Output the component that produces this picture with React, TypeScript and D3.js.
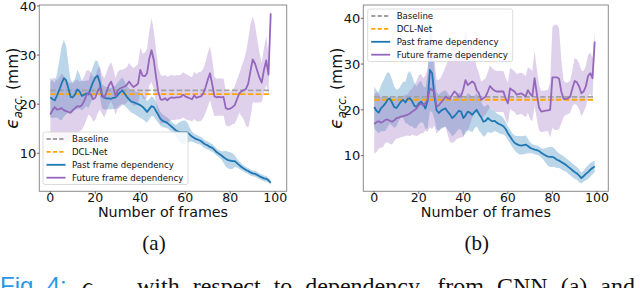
import React from 'react';
import * as d3 from 'd3';

// ---------- data ----------
const xTicks = [0, 20, 40, 60, 80, 100];
const yTicks = [10, 20, 30, 40];
const legendLabels = ['Baseline', 'DCL-Net', 'Past frame dependency', 'Future frame dependency'];
const panelLabels = ['(a)', '(b)'];
const xLabel = 'Number of frames';

const baselineA = 22.8;
const dclA = 22.05;
const baselineB = 22.85;
const dclB = 22.2;

// (a) CNN
const pastMeanA = [21.4,21.0,20.8,21.8,22.9,24.2,25.3,24.9,23.3,21.5,21.4,22.0,23.0,22.6,21.7,21.9,22.2,22.0,23.3,24.5,25.4,25.8,24.4,21.6,21.3,21.2,21.2,21.1,21.3,21.4,21.9,22.4,22.8,22.2,21.5,21.0,20.5,20.4,20.2,20.0,19.8,19.5,19.0,18.4,19.0,19.6,19.4,18.6,17.8,17.0,16.6,16.4,16.2,15.8,15.4,15.0,14.6,14.4,14.3,14.3,14.3,14.2,13.8,13.4,13.1,12.9,12.7,12.5,12.1,11.8,11.6,11.3,11.1,10.7,10.2,9.9,9.6,9.2,8.9,8.6,8.5,8.4,8.4,8.0,7.6,7.2,6.9,6.6,6.4,6.1,5.9,5.8,5.6,5.3,5.1,4.9,4.8,4.5,4.0];
const pastStdA = [4.0,3.8,3.5,4.5,6.0,7.5,7.8,7.0,5.0,3.5,3.0,3.2,4.0,3.5,3.0,2.8,2.6,2.8,3.0,3.2,3.5,3.0,2.8,2.5,2.4,2.3,2.2,2.2,2.3,2.4,2.5,2.6,2.7,2.5,2.3,2.2,2.2,2.3,2.4,2.5,2.6,2.5,2.4,2.2,2.0,2.0,1.9,1.8,1.6,1.4,1.3,1.2,1.1,1.1,1.0,1.0,1.2,1.8,2.2,2.4,2.4,2.0,1.4,1.0,0.9,0.9,0.8,0.8,0.8,0.8,0.8,0.8,0.8,0.7,0.7,0.7,0.8,1.2,1.6,1.7,1.7,1.6,1.2,0.9,0.8,0.7,0.6,0.6,0.6,0.6,0.6,0.6,0.6,0.6,0.6,0.6,0.6,0.5,0.4];
const futureMeanA = [17.9,18.8,19.4,18.9,19.0,19.2,18.8,18.6,18.4,18.3,18.8,19.2,19.6,19.5,19.8,20.6,21.8,22.4,22.0,21.0,21.3,22.6,23.4,22.0,21.3,22.5,23.8,24.6,23.4,21.6,22.8,23.2,23.4,23.6,23.9,24.6,24.0,23.5,23.8,24.2,27.0,25.8,25.7,26.3,29.3,31.0,29.0,25.6,22.5,21.0,20.9,21.2,20.8,21.2,21.4,21.3,21.4,21.4,21.5,21.9,21.6,21.4,21.2,21.0,21.8,21.3,21.5,21.6,22.2,23.4,25.0,26.3,24.0,21.6,21.4,21.5,21.4,21.5,19.2,19.0,19.1,19.4,19.8,21.0,22.2,22.6,22.9,23.1,24.2,26.8,29.1,28.3,26.8,25.4,24.4,27.0,28.9,26.0,38.5];
const futureStdA = [6.5,6.5,6.0,6.0,6.5,7.0,7.0,6.5,6.0,6.0,5.5,5.5,5.5,5.0,5.0,5.0,5.0,4.5,4.5,4.5,4.5,4.5,4.5,4.0,4.0,4.0,4.0,4.0,3.8,3.8,3.8,3.8,3.6,3.6,3.6,3.8,3.8,3.8,4.0,4.0,4.5,4.5,4.8,5.0,5.5,6.5,6.0,5.5,5.0,5.0,4.8,4.8,4.8,4.6,4.6,4.5,4.5,4.5,4.5,4.6,4.6,4.6,4.5,4.5,4.8,4.8,5.0,5.0,5.0,5.2,5.5,5.5,5.0,4.0,3.8,3.8,3.8,3.8,3.5,3.5,3.5,3.5,3.8,4.0,4.0,5.0,6.0,7.5,9.0,9.5,8.7,8.0,6.5,5.0,4.0,4.5,5.0,4.0,1.0];

// (b)
const pastMeanB = [20.6,19.8,19.4,20.3,20.8,21.4,22.2,22.5,21.6,20.6,20.4,21.1,21.8,22.2,21.6,22.4,22.5,21.9,20.9,20.6,21.4,21.8,21.2,20.3,22.0,28.7,28.0,23.0,19.9,19.3,19.8,20.1,20.3,19.6,19.0,18.2,18.6,19.2,19.8,19.6,18.2,18.8,19.6,19.4,18.9,19.5,20.0,19.1,18.4,17.4,17.6,18.2,17.8,17.5,17.6,17.2,16.9,16.7,16.4,15.8,14.9,14.2,13.4,12.8,12.5,12.3,12.2,12.3,12.4,12.1,11.7,11.5,11.3,11.2,11.0,10.6,10.3,10.0,9.8,9.7,9.7,9.5,9.1,8.9,8.6,8.3,8.0,7.6,7.2,6.8,6.4,6.1,5.6,5.1,5.5,6.0,6.4,6.9,7.3,7.6];
const pastStdB = [4.5,4.5,4.5,5.0,5.5,6.0,6.0,5.5,5.0,4.5,4.0,3.5,3.5,4.0,4.5,5.5,6.0,5.5,5.0,4.5,4.5,4.5,4.0,4.5,6.0,9.0,8.5,5.0,4.0,4.0,4.0,4.0,4.0,4.0,4.0,4.0,4.0,4.0,4.0,4.0,4.0,4.0,4.0,4.0,3.8,3.6,3.6,3.6,3.5,3.3,3.2,3.0,2.8,2.5,2.2,2.0,2.0,2.0,1.8,1.6,1.5,1.5,1.5,1.6,1.8,2.0,2.0,2.0,2.0,1.6,1.2,1.0,1.0,1.0,1.0,1.0,1.2,1.6,2.0,2.2,2.2,2.0,1.8,1.6,1.6,1.6,1.5,1.5,1.5,1.5,1.5,1.4,1.4,1.2,1.2,1.4,1.5,1.5,1.4,1.2];
const futureMeanB = [16.9,17.3,17.5,17.2,17.4,17.8,17.9,17.6,17.4,17.7,18.2,18.3,18.5,18.6,18.8,18.9,19.2,19.6,19.9,20.3,21.0,21.4,20.9,21.5,22.2,24.7,24.3,24.0,20.7,21.0,21.6,22.2,22.9,22.5,22.4,23.3,24.0,23.6,22.8,23.0,24.5,26.5,25.4,25.8,26.2,25.8,24.3,23.6,22.2,22.5,22.9,24.0,25.2,24.6,24.2,24.0,24.0,24.0,24.0,22.5,21.4,24.7,24.3,24.0,23.3,23.5,23.6,23.3,22.9,24.3,23.5,23.0,26.9,23.5,20.5,19.6,19.7,19.8,19.9,20.0,27.1,27.1,27.1,26.8,24.0,22.4,22.4,22.5,22.9,24.7,26.3,26.0,25.1,23.6,24.0,25.1,27.4,28.0,26.9,34.9];
const futureStdB = [6.5,6.5,6.0,5.5,5.5,5.0,5.0,5.0,5.0,4.5,4.5,4.5,4.5,4.5,4.5,4.5,5.0,5.0,5.5,6.0,6.5,6.5,6.0,6.0,7.0,8.5,8.5,7.5,6.0,5.5,5.5,6.0,6.5,8.0,9.5,10.5,11.0,10.0,9.0,9.0,10.5,11.0,10.0,9.0,8.0,6.0,5.0,4.5,4.0,4.0,4.0,4.2,4.5,4.5,4.5,4.5,4.5,4.5,4.5,4.5,4.5,4.5,4.5,4.5,4.5,4.5,4.5,4.5,4.5,5.0,5.5,5.5,6.0,5.5,5.0,4.5,4.5,4.5,4.5,6.0,11.0,11.5,11.5,11.0,7.0,4.0,3.5,3.5,3.5,4.0,5.0,5.0,5.0,5.0,4.5,4.5,4.5,4.5,4.5,2.0];

// ---------- style ----------
const C_BASE = '#a2a2a2';
const C_DCL = '#ffa500';
const C_PAST = '#1f77b4';
const C_FUT = '#9467bd';
const FONT = 'DejaVu Sans';

type PanelProps = {
  id: string;
  left: number; right: number; top: number; bottom: number;
  yDomain: [number, number];
  pastMean: number[]; pastStd: number[]; futMean: number[]; futStd: number[];
  baseline: number; dcl: number;
  legendX: number; legendY: number;
  label: string;
};

function Panel(p: PanelProps) {
  const x = d3.scaleLinear().domain([-4.9, 105.1]).range([p.left, p.right]);
  const y = d3.scaleLinear().domain(p.yDomain).range([p.bottom, p.top]);
  const area = (m: number[], s: number[]) =>
    d3.area<number>().x((_, i) => x(i)).y0((d, i) => y(d - s[i])).y1((d, i) => y(d + s[i]))(m) || '';
  const line = (m: number[]) => d3.line<number>().x((_, i) => x(i)).y(d => y(d))(m) || '';
  const n = Math.max(p.pastMean.length, p.futMean.length) - 1;
  const cx = (p.left + p.right) / 2;
  const cy = (p.top + p.bottom) / 2;
  const rowH = 12.9;
  const lg = [
    { c: C_BASE, dash: '4.2,2.2' },
    { c: C_DCL, dash: '4.2,2.2' },
    { c: C_PAST, dash: '' },
    { c: C_FUT, dash: '' },
  ];
  return (
    <g>
      <defs>
        <clipPath id={p.id}>
          <rect x={p.left} y={p.top} width={p.right - p.left} height={p.bottom - p.top} />
        </clipPath>
      </defs>
      <g clipPath={`url(#${p.id})`}>
        <path d={area(p.pastMean, p.pastStd)} fill={C_PAST} fillOpacity={0.3} />
        <path d={area(p.futMean, p.futStd)} fill={C_FUT} fillOpacity={0.3} />
        <line x1={x(0)} x2={x(n)} y1={y(p.baseline)} y2={y(p.baseline)} stroke={C_BASE} strokeWidth={1.8} strokeDasharray="5.5,2.4" />
        <line x1={x(0)} x2={x(n)} y1={y(p.dcl)} y2={y(p.dcl)} stroke={C_DCL} strokeWidth={1.8} strokeDasharray="5.5,2.4" />
        <path d={line(p.pastMean)} fill="none" stroke={C_PAST} strokeWidth={1.8} strokeLinejoin="round" />
        <path d={line(p.futMean)} fill="none" stroke={C_FUT} strokeWidth={1.8} strokeLinejoin="round" />
      </g>
      <rect x={p.left} y={p.top} width={p.right - p.left} height={p.bottom - p.top} fill="none" stroke="#8c8c8c" strokeWidth={1} />
      {xTicks.map(t => (
        <g key={'x' + t}>
          <line x1={x(t)} x2={x(t)} y1={p.bottom} y2={p.bottom + 2.5} stroke="#444" strokeWidth={0.8} />
          <text x={x(t)} y={p.bottom + 10.5} textAnchor="middle" fontSize={12.5} fill="#111" fontFamily={FONT}>{t}</text>
        </g>
      ))}
      {yTicks.map(t => (
        <g key={'y' + t}>
          <line x1={p.left - 2.5} x2={p.left} y1={y(t)} y2={y(t)} stroke="#444" strokeWidth={0.8} />
          <text x={p.left - 3} y={y(t) + 4.7} textAnchor="end" fontSize={13} fill="#111" fontFamily={FONT}>{t}</text>
        </g>
      ))}
      <text x={cx} y={p.bottom + 25.5} textAnchor="middle" fontSize={14.3} fill="#111" fontFamily={FONT}>{xLabel}</text>
      <text transform={`translate(${p.left - 21},${cy - 10}) rotate(-90)`} textAnchor="middle" fontSize={15.5} fill="#111" fontFamily={FONT}>
        <tspan fontStyle="italic" fontSize={17}>ϵ</tspan>
        <tspan fontStyle="italic" fontSize={11.5} dy={3.5}>acc.</tspan>
        <tspan dy={-3.5}> (mm)</tspan>
      </text>
      {/* legend */}
      <rect x={p.legendX} y={p.legendY} width={145} height={52.5} rx={2} fill="#fff" fillOpacity={0.8} stroke="#d3d3d3" strokeWidth={0.8} />
      {legendLabels.map((l, i) => {
        const yy = p.legendY + 7 + i * rowH;
        return (
          <g key={l}>
            <line x1={p.legendX + 3.5} x2={p.legendX + 22.5} y1={yy} y2={yy} stroke={lg[i].c} strokeWidth={1.8} strokeDasharray={lg[i].dash || undefined} />
            <text x={p.legendX + 29} y={yy + 3.1} fontSize={8.6} fill="#111" fontFamily={FONT}>{l}</text>
          </g>
        );
      })}
      <text x={cx - 9} y={250} textAnchor="middle" fontSize={21} fill="#111" fontFamily="Liberation Serif">{p.label}</text>
    </g>
  );
}

export default function App() {
  return (
    <svg width={640} height={288} style={{ position: 'absolute', left: 0, top: 0, background: '#fff' }}>
      <rect x={0} y={0} width={640} height={288} fill="#fff" />
      <Panel id="clipA" left={39.3} right={286.7} top={5} bottom={191.3} yDomain={[2.26, 40.2]}
        pastMean={pastMeanA} pastStd={pastStdA} futMean={futureMeanA} futStd={futureStdA}
        baseline={baselineA} dcl={dclA} legendX={43} legendY={132} label={panelLabels[0]} />
      <Panel id="clipB" left={363.3} right={608.3} top={5} bottom={191.3} yDomain={[2.2, 42.9]}
        pastMean={pastMeanB} pastStd={pastStdB} futMean={futureMeanB} futStd={futureStdB}
        baseline={baselineB} dcl={dclB} legendX={367.7} legendY={9} label={panelLabels[1]} />
      <text x={0} y={294} fontSize={24} fontFamily="Liberation Sans" fill="#2a97e6">Fig. 4:</text>
      <text x={82} y={294} fontSize={24} fontFamily="Liberation Serif" fill="#111">
        <tspan fontStyle="italic">ϵ</tspan>
        <tspan fontStyle="italic" fontSize={16} dy={5}>acc.</tspan>
      </text>
      <text x={137} y={294} fontSize={24} fontFamily="Liberation Serif" fill="#111" wordSpacing={7}>
        with respect to dependency, from CNN (a) and
      </text>
    </svg>
  );
}
